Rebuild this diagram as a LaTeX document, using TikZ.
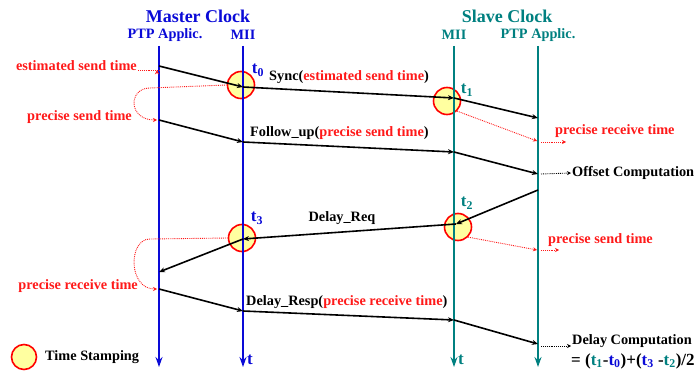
\documentclass[tikz,border=0pt]{standalone}
\usepackage{fontspec}
\setmainfont{Liberation Serif}
\usetikzlibrary{positioning, calc, arrows.meta}
\definecolor{masterblue}{RGB}{10,10,215}
\definecolor{slaveteal}{RGB}{0,128,128}
\definecolor{stampred}{RGB}{255,25,25}
\definecolor{stampfill}{RGB}{255,255,160}

\tikzset{
  lifeline/.style={line width=2.6pt, -{Stealth[length=10pt,width=7pt]}},
  msg/.style={line width=1.6pt, -{Stealth[length=6pt,width=5pt]}},
  note/.style={stampred, densely dotted, line width=0.9pt, -{Stealth[length=4pt,width=4pt]}},
  calcnote/.style={black, densely dotted, line width=0.9pt, -{Stealth[length=4pt,width=4pt]}},
  stamp/.style={circle, draw=red, line width=1.6pt, fill=stampfill, minimum size=27pt, inner sep=0pt},
  lbl/.style={font=\fontsize{14.3}{16}\selectfont\bfseries, inner sep=1pt},
  redlbl/.style={lbl, text=stampred},
  head/.style={font=\fontsize{18}{20}\selectfont\bfseries, inner sep=1pt},
  tlbl/.style={font=\fontsize{17}{18}\selectfont\bfseries, inner sep=1pt},
}

\begin{document}
\begin{tikzpicture}[x=1pt, y=-1pt, >=stealth]
    \useasboundingbox (0,0) rectangle (696,371);

    % --- Headings ---
    \node[head, text=masterblue] (mhead) at (198,16) {Master Clock};
    \node[head, text=slaveteal]  (shead) at (507,16) {Slave Clock};
    \node[lbl, text=masterblue] (mptpname) at (165,35) {PTP Applic.};
    \node[lbl, text=masterblue] (mmiiname) at (243,35) {MII};
    \node[lbl, text=slaveteal]  (smiiname) at (454,35) {MII};
    \node[lbl, text=slaveteal]  (sptpname) at (538,35) {PTP Applic.};

    % --- Time stamps (drawn under the lifelines) ---
    \node[stamp] (st0) at (241,85) {};
    \node[stamp] (st1) at (447,101) {};
    \node[stamp] (st2) at (458,227) {};
    \node[stamp] (st3) at (242,238) {};
    \node[tlbl, text=masterblue] (t0) at (258,70) {t\textsubscript{0}};
    \node[tlbl, text=slaveteal]  (t1) at (467,90) {t\textsubscript{1}};
    \node[tlbl, text=slaveteal]  (t2) at (467,203) {t\textsubscript{2}};
    \node[tlbl, text=masterblue] (t3) at (257,218) {t\textsubscript{3}};

    % --- Lifelines ---
    \coordinate (mptptop) at (159,46);  \coordinate (mptpend) at (159,367);
    \coordinate (mmiitop) at (243,46);  \coordinate (mmiiend) at (243,367);
    \coordinate (smiitop) at (454,46);  \coordinate (smiiend) at (454,367);
    \coordinate (sptptop) at (538,46);  \coordinate (sptpend) at (538,367);
    \draw[lifeline, masterblue] (mptptop) -- (mptpend);
    \draw[lifeline, masterblue] (mmiitop) -- (mmiiend);
    \draw[lifeline, slaveteal]  (smiitop) -- (smiiend);
    \draw[lifeline, slaveteal]  (sptptop) -- (sptpend);
    \node[tlbl, text=masterblue, anchor=west] (mtime) at (246,360) {t};
    \node[tlbl, text=slaveteal, anchor=west]  (stime) at (457,360) {t};

    % --- Sync ---
    \coordinate (sync1) at (159,66);  \coordinate (sync2) at (243,87);
    \coordinate (sync3) at (454,98);  \coordinate (sync4) at (538,118);
    \draw[msg] (sync1) -- (sync2);
    \draw[msg] (sync2) -- (sync3);
    \draw[msg] (sync3) -- (sync4);
    \node[lbl, anchor=west] (synclbl) at (268,77) {Sync(\textcolor{stampred}{estimated send time})};

    % --- Follow_up ---
    \coordinate (fup1) at (159,120); \coordinate (fup2) at (243,142);
    \coordinate (fup3) at (454,152); \coordinate (fup4) at (538,174);
    \draw[msg] (fup1) -- (fup2);
    \draw[msg] (fup2) -- (fup3);
    \draw[msg] (fup3) -- (fup4);
    \node[lbl, anchor=west] (fuplbl) at (249,133) {Follow\_up(\textcolor{stampred}{precise send time})};

    % --- Delay_Req ---
    \coordinate (dreq1) at (538,190); \coordinate (dreq2) at (456,224);
    \coordinate (dreq3) at (243,239); \coordinate (dreq4) at (159,272);
    \draw[msg] (dreq1) -- (dreq2);
    \draw[msg] (dreq2) -- (dreq3);
    \draw[msg] (dreq3) -- (dreq4);
    \node[lbl] (dreqlbl) at (342,218) {Delay\_Req};

    % --- Delay_Resp ---
    \coordinate (dresp1) at (159,289); \coordinate (dresp2) at (243,311);
    \coordinate (dresp3) at (454,320); \coordinate (dresp4) at (538,344);
    \draw[msg] (dresp1) -- (dresp2);
    \draw[msg] (dresp2) -- (dresp3);
    \draw[msg] (dresp3) -- (dresp4);
    \node[lbl, anchor=west] (dresplbl) at (245,302) {Delay\_Resp(\textcolor{stampred}{precise receive time})};

    % --- Master side notes ---
    \node[redlbl, anchor=east] (estsend) at (138,66) {estimated send time};
    \draw[note] (estsend.south east) ++(0,-2) coordinate (estfrom) -- (estfrom -| mptptop) ++(-2,0);
    \node[redlbl, anchor=east] (precsend) at (133,117) {precise send time};
    \draw[note] (st0.west) -- (150,88) .. controls (128,88) and (128,120) .. (157,120);
    \node[redlbl, anchor=east] (precrecv) at (139,286) {precise receive time};
    \draw[note] (st3.west) -- (150,239) .. controls (128,239) and (128,289) .. (157,289);

    % --- Slave side notes ---
    \node[redlbl, anchor=west] (sprecrecv) at (554,131) {precise receive time};
    \draw[note] (st1.south east) -- (537,141);
    \draw[note] (541,142) -- (566,142);
    \node[redlbl, anchor=west] (sprecsend) at (547,240) {precise send time};
    \draw[note] (st2.south east) -- (537,250);
    \draw[note] (541,250) -- (559,250);

    % --- Computations ---
    \node[lbl, anchor=west] (offset) at (571,173) {Offset Computation};
    \draw[calcnote] (541,174) -- (offset.west);
    \node[lbl, anchor=west] (delay) at (571,341) {Delay Computation};
    \draw[calcnote] (541,346) -- (delay.west |- 0,346);
    \node[font=\fontsize{17}{18}\selectfont\bfseries, inner sep=1pt, anchor=west] (formula) at (570,361)
      {= (\textcolor{slaveteal}{t\textsubscript{1}}-\textcolor{masterblue}{t\textsubscript{0}})+(\textcolor{masterblue}{t\textsubscript{3}} -\textcolor{slaveteal}{t\textsubscript{2}})/2};

    % --- Legend ---
    \node[stamp, minimum size=25pt] (legstamp) at (24,357) {};
    \node[lbl, anchor=west] (leglbl) at (44,357) {Time Stamping};

\end{tikzpicture}
\end{document}
